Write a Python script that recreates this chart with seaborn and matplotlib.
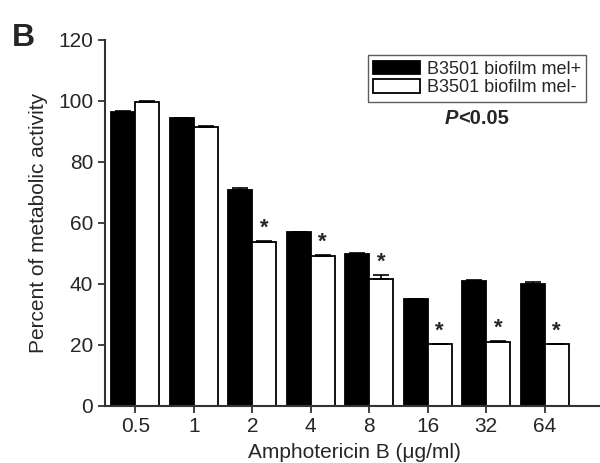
import pandas as pd
import numpy as np
import matplotlib.pyplot as plt
import seaborn as sns
from matplotlib.patches import Patch

# Data
concentrations = ["0.5", "1", "2", "4", "8", "16", "32", "64"]
mel_pos = [96.2, 94.2, 70.8, 56.8, 49.6, 34.9, 41.0, 39.9]
mel_neg = [99.6, 91.3, 53.8, 49.1, 41.4, 20.1, 20.8, 20.1]
err_pos = [0.3, 0.3, 0.5, 0.3, 0.3, 0.2, 0.2, 0.5]
err_neg = [0.2, 0.5, 0.3, 0.4, 1.5, 0.2, 0.3, 0.2]
significant = [False, False, True, True, True, True, True, True]
series = ["B3501 biofilm mel+", "B3501 biofilm mel-"]

df = pd.DataFrame({
    "conc": concentrations * 2,
    "value": mel_pos + mel_neg,
    "strain": [series[0]] * len(concentrations) + [series[1]] * len(concentrations),
})

sns.set_style("ticks")
plt.rcParams['font.family'] = ['Liberation Sans', 'DejaVu Sans']

fig = plt.figure(figsize=(6, 4.63), dpi=100)
ax = fig.add_axes([0.175, 0.124, 0.83, 0.79])

sns.barplot(data=df, x="conc", y="value", hue="strain", order=concentrations,
            hue_order=series, palette=["black", "white"], edgecolor="black",
            linewidth=1.3, width=0.82, errorbar=None, legend=False, ax=ax)

# error bars and asterisks placed on the drawn bars
bars = ax.patches[:2 * len(concentrations)]
n = len(concentrations)
for i in range(n):
    for j, (vals, errs) in enumerate([(mel_pos, err_pos), (mel_neg, err_neg)]):
        b = bars[j * n + i]
        xc = b.get_x() + b.get_width() / 2
        ax.errorbar(xc, vals[i], yerr=[[0], [errs[i]]], fmt="none",
                    ecolor="black", elinewidth=1.2, capsize=5.5, capthick=1.2)
        if j == 1 and significant[i]:
            ax.text(xc, vals[i] + errs[i] + 0.8, "*", ha="center", va="bottom",
                    fontsize=16, fontweight="bold")

ax.set_ylim(0, 120)
ax.set_yticks([0, 20, 40, 60, 80, 100, 120])
ax.set_xlim(-0.52, 8.0)
ax.set_xlabel("Amphotericin B (\u03bcg/ml)", fontsize=15, labelpad=5)
ax.set_ylabel("Percent of metabolic activity", fontsize=15, labelpad=7)
ax.tick_params(axis="both", labelsize=15, width=1.3, length=5, color="#333333")
for s in ["left", "bottom"]:
    ax.spines[s].set_linewidth(1.5)
    ax.spines[s].set_color("#333333")
sns.despine(ax=ax)

handles = [Patch(facecolor="black", edgecolor="black", linewidth=1.3),
           Patch(facecolor="white", edgecolor="black", linewidth=1.3)]
leg = ax.legend(handles, series, loc="upper right", bbox_to_anchor=(0.966, 0.958),
                fontsize=13, frameon=True, fancybox=False, handlelength=2.6,
                handleheight=0.75, borderpad=0.3, labelspacing=0.1, handletextpad=0.35,
                borderaxespad=0)
leg.get_frame().set_edgecolor("#333333")
leg.get_frame().set_linewidth(1.0)

fig.text(0.763, 0.745, "P", fontsize=14.5, fontweight="bold", fontstyle="italic",
         ha="right", va="center")
fig.text(0.763, 0.745, "<0.05", fontsize=14.5, fontweight="bold", ha="left", va="center")
fig.text(0.02, 0.918, "B", fontsize=23, fontweight="bold", ha="left", va="center")

fig.savefig("out.png", dpi=100)
